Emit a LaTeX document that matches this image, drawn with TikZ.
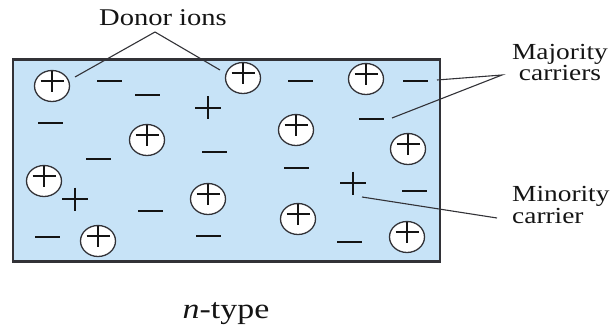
\documentclass[tikz,border=0pt]{standalone}
\usepackage{fontspec}
\setmainfont[FakeStretch=1.19]{Liberation Serif}
\usetikzlibrary{shapes.geometric}
\definecolor{bulk}{RGB}{199,227,247}
\definecolor{edge}{RGB}{50,50,55}
\definecolor{ink}{RGB}{20,20,20}
\begin{document}
\begin{tikzpicture}[x=1pt,y=-1pt,
  sign/.style={line width=2.9pt, draw=ink},
  donor/.style={ellipse, draw=edge, line width=1.3pt, fill=white,
    minimum width=35pt, minimum height=31pt, inner sep=0pt,
    path picture={
      \draw[sign] ([shift={(-11.5,-5)}]path picture bounding box.center) -- ++(23,0);
      \draw[sign] ([shift={(0,-16)}]path picture bounding box.center) -- ++(0,22);
    }},
  electron/.style={rectangle, fill=ink, minimum width=25pt, minimum height=2.9pt, inner sep=0pt},
  hole/.style={rectangle, minimum width=26pt, minimum height=24pt, inner sep=0pt,
    path picture={
      \draw[sign] ([shift={(-13,0)}]path picture bounding box.center) -- ++(26,0);
      \draw[sign] ([shift={(0,-11.5)}]path picture bounding box.center) -- ++(0,23);
    }},
  leader/.style={draw=edge, line width=1.1pt},
  lbl/.style={text=ink, inner sep=0pt, font=\fontsize{24}{21}\selectfont},
  sidelbl/.style={text=ink, inner sep=0pt, font=\fontsize{23}{21.5}\selectfont},
]
\useasboundingbox (0,0) rectangle (614,329);

% n-type crystal
\node[draw=edge, line width=2.2pt, fill=bulk, minimum width=427pt, minimum height=202pt,
      inner sep=0pt] (crystal) at (226.5,160.5) {};

% ionised donor atoms
\node[donor] (c1)  at (52,86)   {};
\node[donor] (c2)  at (147,140) {};
\node[donor] (c3)  at (243,78)  {};
\node[donor] (c4)  at (366,79)  {};
\node[donor] (c5)  at (296,130) {};
\node[donor] (c6)  at (408,149) {};
\node[donor] (c7)  at (44,181)  {};
\node[donor] (c8)  at (208,199) {};
\node[donor] (c9)  at (98,241)  {};
\node[donor] (c10) at (298,219) {};
\node[donor] (c11) at (407,237) {};

% free electrons
\node[electron] (m1)  at (109.5,81) {};
\node[electron] (m2)  at (147.5,95) {};
\node[electron] (m3)  at (50,123)   {};
\node[electron] (m4)  at (214,152)  {};
\node[electron] (m5)  at (98,159)   {};
\node[electron] (m6)  at (300,81)   {};
\node[electron] (m7)  at (415,81)   {};
\node[electron] (m8)  at (371,119)  {};
\node[electron] (m9)  at (150,211)  {};
\node[electron] (m10) at (47,237)   {};
\node[electron] (m11) at (208,236)  {};
\node[electron] (m12) at (296,168)  {};
\node[electron] (m13) at (414,191)  {};
\node[electron] (m14) at (349,242)  {};

% holes
\node[hole] (p1) at (208,108) {};
\node[hole] (p2) at (75,199)  {};
\node[hole] (p3) at (353,183) {};

% labels
\node[lbl, anchor=base] (donors) at (163,26) {Donor ions};
\node[sidelbl, anchor=base, align=center] (majority) at (560,81) {Majority\\carriers};
\node[sidelbl, anchor=base west, align=left] (minority) at (512,223) {Minority\\carrier};
\node[text=ink, inner sep=0pt, anchor=base, font=\fontsize{28.5}{30}\selectfont] (ntype) at (226,318) {\textit{n}-type};

% leader lines
\coordinate (dtip) at (155,32);
\coordinate (d1) at (75,77);
\coordinate (d2) at (220,70);
\draw[leader] (d1) -- (dtip) -- (d2);

\coordinate (mtip) at (502,75);
\coordinate (e1) at (437,80);
\coordinate (e2) at (392,118);
\draw[leader] (e1) -- (mtip) -- (e2);

\coordinate (h1) at (362,197);
\coordinate (htip) at (497,218);
\draw[leader] (h1) -- (htip);
\end{tikzpicture}
\end{document}
